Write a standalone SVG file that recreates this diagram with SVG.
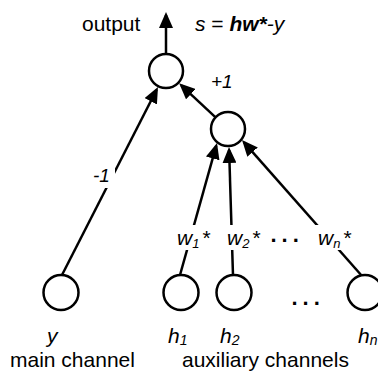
<svg xmlns="http://www.w3.org/2000/svg" width="378" height="374" viewBox="0 0 378 374">
<defs>
<marker id="ah" markerUnits="userSpaceOnUse" markerWidth="16" markerHeight="14" refX="13" refY="7" orient="auto">
<path d="M0,0 L16,7 L0,14 z" fill="#000"/>
</marker>
<style>
.nd{fill:#fff;stroke:#000;stroke-width:2.5}
.ed{stroke:#000;stroke-width:2.5;fill:none;marker-end:url(#ah)}
text{font-family:"Liberation Sans",Arial,sans-serif;fill:#000}
.big{font-size:21px}
.lab{font-size:21px;font-style:italic}
.el{font-size:19px;font-style:italic}
.wl{font-size:21px;font-style:italic}
.dots{font-size:22px;font-weight:bold;letter-spacing:5px}
.bg{fill:#fff}
</style>
</defs>
<g id="connectors">
<line class="ed" x1="166" y1="54" x2="166" y2="15"/>
<line class="ed" x1="62" y1="275" x2="156.6" y2="89.7"/>
<line class="ed" x1="215.6" y1="117.4" x2="181.3" y2="85.3"/>
<line class="ed" x1="180" y1="275" x2="216.2" y2="145.9"/>
<line class="ed" x1="233" y1="275" x2="229.1" y2="150"/>
<line class="ed" x1="362" y1="276" x2="244" y2="142.3"/>
<rect class="bg" x="91" y="164" width="24" height="24"/>
<rect class="bg" x="175" y="225" width="38" height="25"/>
<rect class="bg" x="224" y="225" width="37" height="25"/>
<rect class="bg" x="315" y="225" width="40" height="25"/>
<text class="el" x="93" y="182">-1</text>
<text class="el" x="211" y="88">+1</text>
<text class="wl" x="177" y="245">w<tspan font-size="13" dy="3">1</tspan><tspan dx="3" dy="-3" font-style="normal">*</tspan></text>
<text class="wl" x="227" y="245">w<tspan font-size="13" dy="3">2</tspan><tspan dx="3" dy="-3" font-style="normal">*</tspan></text>
<text class="wl" x="318" y="245">w<tspan font-size="13" dy="3">n</tspan><tspan dx="3" dy="-3" font-style="normal">*</tspan></text>
<text class="dots" x="270.5" y="241.5">...</text>
</g>
<g id="top-label">
<text class="big" x="82" y="31">output</text>
<text class="big" x="195" y="31"><tspan font-style="italic">s</tspan> = <tspan font-style="italic" font-weight="bold">hw*</tspan><tspan font-style="italic">-y</tspan></text>
</g>
<g id="node-A"><circle class="nd" cx="166" cy="71" r="17"/></g>
<g id="node-B"><circle class="nd" cx="228" cy="129" r="17"/></g>
<g id="node-y">
<circle class="nd" cx="61" cy="292.5" r="17.5"/>
<text class="lab" x="47" y="343">y</text>
</g>
<g id="node-h1">
<circle class="nd" cx="181" cy="292.5" r="17.5"/>
<text class="lab" x="168" y="343">h<tspan font-size="14" dy="2">1</tspan></text>
</g>
<g id="node-h2">
<circle class="nd" cx="234" cy="292.5" r="17.5"/>
<text class="lab" x="220" y="343">h<tspan font-size="14" dy="2">2</tspan></text>
</g>
<g id="node-hn">
<circle class="nd" cx="365" cy="292.5" r="17.5"/>
<text class="lab" x="358" y="343">h<tspan font-size="14" dy="2">n</tspan></text>
</g>
<text class="dots" x="291.5" y="304.5">...</text>
<g id="bottom-labels">
<text class="big" x="10" y="367">main channel</text>
<text class="big" x="182" y="367">auxiliary channels</text>
</g>
</svg>
